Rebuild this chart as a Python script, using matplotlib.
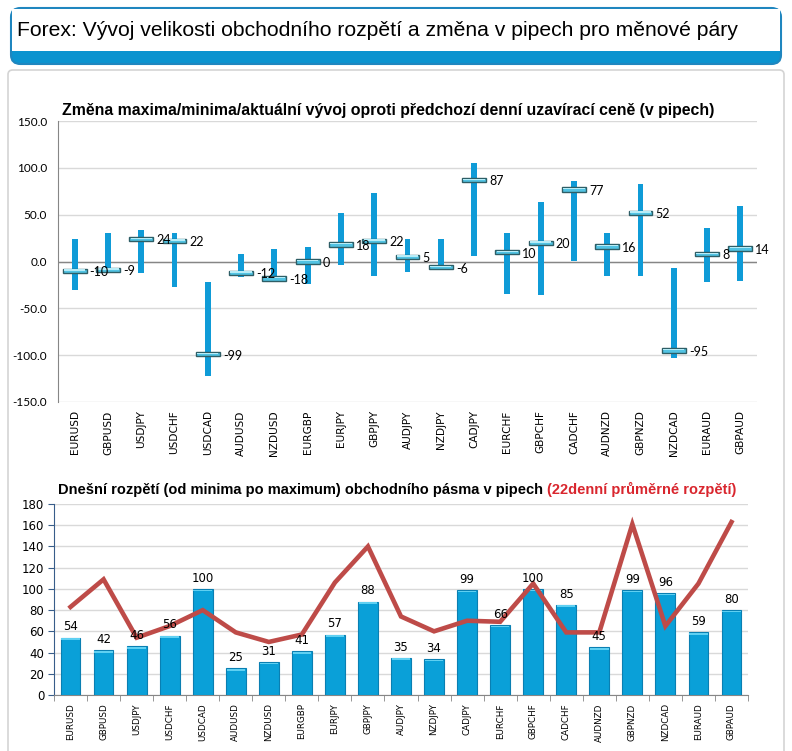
import numpy as np
import matplotlib
matplotlib.use('Agg')
import matplotlib.pyplot as plt
from matplotlib.patches import FancyBboxPatch, Rectangle
from matplotlib.text import Annotation

pairs = ['EURUSD', 'GBPUSD', 'USDJPY', 'USDCHF', 'USDCAD', 'AUDUSD', 'NZDUSD',
         'EURGBP', 'EURJPY', 'GBPJPY', 'AUDJPY', 'NZDJPY', 'CADJPY', 'EURCHF',
         'GBPCHF', 'CADCHF', 'AUDNZD', 'GBPNZD', 'NZDCAD', 'EURAUD', 'GBPAUD']

# change vs. previous close (pips)
day_high = [23.5, 30, 34, 30, -22, 7.5, 13, 16, 52, 73, 23.5, 24.5, 105, 30, 64, 86, 30, 83, -6.5, 36, 59]
day_low = [-30, -11, -12, -27, -122, -17, -19, -24, -4, -15, -11, -9, 5.5, -35, -36, 1, -15, -15, -103, -22, -21]
current = [-10, -9, 24, 22, -99, -12, -18, 0, 18, 22, 5, -6, 87, 10, 20, 77, 16, 52, -95, 8, 14]

# today's range vs 22-day average range (pips)
today_range = [54, 42, 46, 56, 100, 25, 31, 41, 57, 88, 35, 34, 99, 66, 100, 85, 45, 99, 96, 59, 80]
avg_range = [83, 109, 54, 65, 80, 59, 50, 57, 106, 140, 74, 60, 70, 69, 105, 59, 59, 161, 65, 105, 163]

title_main = 'Forex: Vývoj velikosti obchodního rozpětí a změna v pipech pro měnové páry'
title_top = 'Změna maxima/minima/aktuální vývoj oproti předchozí denní uzavírací ceně (v pipech)'
title_bot_black = 'Dnešní rozpětí (od minima po maximum) obchodního pásma v pipech '
title_bot_red = '(22denní průměrné rozpětí)'

BLUE = '#0f9bd7'
RED = '#be4b48'

W, H = 792, 751
fig = plt.figure(figsize=(W / 100, H / 100), dpi=100)


def fx(px):
    return px / W


def fy(py):
    return 1 - py / H


# outer panels (kept behind the axes)
fig.patches.append(FancyBboxPatch((fx(8), fy(751 + 10)), fx(776), (751 + 10 - 70) / H,
                                  boxstyle='round,pad=0,rounding_size=0.006',
                                  transform=fig.transFigure, fc='white', ec='#d4d4d4', lw=1.2, zorder=-10))
fig.patches.append(FancyBboxPatch((fx(11), fy(64)), fx(770), 56 / H,
                                  boxstyle='round,pad=0,rounding_size=0.012',
                                  transform=fig.transFigure, fc='#0b93cf', ec='#1f86bf', lw=1.5, zorder=-10))
fig.patches.append(Rectangle((fx(12), fy(51)), fx(768), 42 / H,
                             transform=fig.transFigure, fc='white', ec='none', zorder=-9))
fig.text(fx(17), fy(31), title_main, fontsize=15.2, color='#000000',
         family='Liberation Sans', va='center', ha='left')

# ---- top chart
ax1 = fig.add_axes([fx(58), fy(402), fx(757 - 58), (402 - 121) / H])
ax1.patch.set_alpha(0)
x = np.arange(len(pairs))
lo = np.array(day_low)
hi = np.array(day_high)
cur = np.array(current)
ax1.bar(x, hi - lo, bottom=lo, width=0.18, color=BLUE, zorder=3)
ax1.bar(x, 4.6, bottom=cur - 2.3, width=0.72, color='#52c3e3', edgecolor='#2e5e66', lw=1.0, zorder=4)
ax1.bar(x, 1.4, bottom=cur + 0.2, width=0.64, color='#b7ecf7', edgecolor='none', zorder=5)
for xi, c in zip(x, current):
    ax1.text(xi + 0.45, c - 1.5, f'{c}', fontsize=9, family='Lato', va='center', ha='left', zorder=6)
ax1.set_xlim(-0.5, len(pairs) - 0.5)
ax1.set_ylim(-150, 150)
ax1.set_yticks(np.arange(-150, 151, 50))
ax1.set_yticklabels([f'{v:.1f}' for v in np.arange(-150, 151, 50)], family='Lato', fontsize=8.5)
ax1.set_xticks(x)
ax1.set_xticklabels(pairs, rotation=90, family='DejaVu Sans', fontsize=7.6)
ax1.tick_params(axis='both', length=0, pad=6)
ax1.tick_params(axis='y', pad=8)
ax1.grid(axis='y', color='#d9d9d9', lw=1, zorder=0)
ax1.axhline(0, color='#868686', lw=1, zorder=2)
for s in ['top', 'right', 'bottom']:
    ax1.spines[s].set_visible(False)
ax1.spines['left'].set_color('#868686')
fig.text(fx(388), fy(110), title_top, fontsize=11.4, fontweight='bold', family='Liberation Sans',
         ha='center', va='center')

# ---- bottom chart
ax2 = fig.add_axes([fx(54), fy(695), fx(748 - 54), (695 - 504) / H])
ax2.patch.set_alpha(0)
ax2.bar(x, today_range, width=0.6, color='#0aa0d8', edgecolor='#0a7fb2', lw=0.8, zorder=3)
ax2.bar(x, 1.6, bottom=np.array(today_range) - 2.2, width=0.56, color='#5fd0f2', edgecolor='none', zorder=3)
ax2.plot(x, avg_range, color=RED, lw=3.3, zorder=4, solid_joinstyle='miter')
for xi, v in zip(x, today_range):
    ax2.text(xi, v + 4, f'{v}', fontsize=8.5, family='DejaVu Sans', ha='center', va='bottom', zorder=5)
ax2.set_xlim(-0.5, len(pairs) - 0.5)
ax2.set_ylim(0, 180)
ax2.set_yticks(np.arange(0, 181, 20))
ax2.tick_params(axis='y', labelsize=8.5, length=4, color='#385d8a', pad=3)
ax2.set_xticks(x)
ax2.set_xticklabels(pairs, rotation=90, fontsize=6.3, family='DejaVu Sans')
ax2.set_xticks(np.arange(-0.5, len(pairs), 1), minor=True)
ax2.tick_params(axis='x', which='major', length=0, pad=6)
ax2.tick_params(axis='x', which='minor', length=4, color='#868686')
ax2.grid(axis='y', color='#d9d9d9', lw=1, zorder=0)
for s in ['top', 'right']:
    ax2.spines[s].set_visible(False)
ax2.spines['left'].set_color('#385d8a')
ax2.spines['bottom'].set_color('#868686')

t1 = fig.text(fx(58), fy(490), title_bot_black, fontsize=10.5, fontweight='bold',
              family='Liberation Sans', ha='left', va='center')
fig.add_artist(Annotation(title_bot_red, xy=(1, 0), xycoords=t1, va='bottom', ha='left',
                          fontsize=10.5, fontweight='bold', family='Liberation Sans', color='#d9262e'))

fig.savefig('out.png', dpi=100)
